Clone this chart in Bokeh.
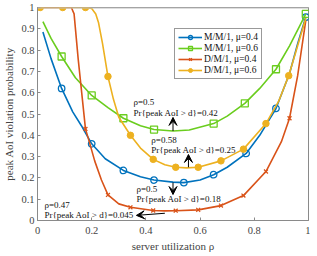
from bokeh.plotting import figure
from bokeh.models import (FixedTicker, Range1d, Legend, LegendItem, Arrow, VeeHead, Span)
from bokeh.core.properties import value
from bokeh.embed import file_html
from bokeh.resources import INLINE

# ---- data ----
mm04_x = [0.02, 0.05, 0.089, 0.13, 0.162, 0.2, 0.25, 0.317, 0.38, 0.43, 0.5, 0.54,
          0.6, 0.65, 0.7, 0.77, 0.82, 0.88, 0.93, 0.96, 0.99]
mm04_y = [0.885, 0.76, 0.62, 0.51, 0.445, 0.36, 0.29, 0.235, 0.205, 0.19, 0.18, 0.178,
          0.19, 0.215, 0.25, 0.315, 0.40, 0.526, 0.69, 0.83, 0.955]
mm04_marks = [2, 5, 7, 9, 11, 13, 15, 17, 20]

mm06_x = [0.02, 0.05, 0.089, 0.14, 0.2, 0.26, 0.317, 0.38, 0.43, 0.5, 0.56, 0.65,
          0.7, 0.765, 0.82, 0.88, 0.93, 0.97, 0.99]
mm06_y = [0.934, 0.855, 0.77, 0.67, 0.587, 0.53, 0.48, 0.445, 0.427, 0.42, 0.425, 0.455,
          0.49, 0.55, 0.62, 0.71, 0.82, 0.92, 0.97]
mm06_marks = [2, 4, 6, 8, 11, 13, 15, 18]

dm04_x = [0.0, 0.01, 0.093, 0.125, 0.135, 0.15, 0.177, 0.19, 0.211, 0.236, 0.26, 0.3,
          0.343, 0.427, 0.47, 0.51, 0.593, 0.677, 0.76, 0.843, 0.9, 0.93, 0.96, 0.99]
dm04_y = [1.0, 1.0, 1.0, 1.0, 0.97, 0.76, 0.43, 0.375, 0.28, 0.19, 0.12, 0.078,
          0.062, 0.047, 0.045, 0.046, 0.05, 0.07, 0.117, 0.23, 0.37, 0.48, 0.68, 0.94]
dm04_marks = [1, 2, 6, 10, 12, 13, 15, 16, 17, 18, 19, 21]

dm06_x = [0.0, 0.01, 0.093, 0.177, 0.2, 0.215, 0.225, 0.24, 0.26, 0.28, 0.3, 0.343,
          0.38, 0.427, 0.47, 0.51, 0.55, 0.593, 0.677, 0.76, 0.843, 0.89, 0.927, 0.96, 0.99]
dm06_y = [1.0, 1.0, 1.0, 1.0, 0.995, 0.97, 0.93, 0.83, 0.676, 0.57, 0.485, 0.40,
          0.34, 0.287, 0.262, 0.25, 0.247, 0.25, 0.28, 0.335, 0.455, 0.56, 0.68, 0.82, 0.95]
dm06_marks = [1, 2, 3, 8, 11, 13, 15, 17, 18, 19, 20, 22]

series_labels = ["M/M/1, μ=0.4", "M/M/1, μ=0.6", "D/M/1, μ=0.4", "D/M/1, μ=0.6"]

x_ticks = [0, 0.2, 0.4, 0.6, 0.8, 1]
x_tick_labels = ["0", "0.2", "0.4", "0.6", "0.8", "1"]
y_ticks = [0, 0.1, 0.2, 0.3, 0.4, 0.5, 0.6, 0.7, 0.8, 0.9, 1]
y_tick_labels = ["0", "0.1", "0.2", "0.3", "0.4", "0.5", "0.6", "0.7", "0.8", "0.9", "1"]

ann_rho = ["ρ=0.5", "ρ=0.58", "ρ=0.5", "ρ=0.47"]
ann_prob = ["Pr{peak AoI > d}=0.42", "Pr{peak AoI > d}=0.25",
            "Pr{peak AoI > d}=0.18", "Pr{peak AoI > d}=0.045"]
ann_x = [0.354, 0.42, 0.365, 0.026]
ann_y_rho = [0.554, 0.376, 0.146, 0.075]
ann_y_prob = [0.507, 0.329, 0.099, 0.028]
arr_x0 = [0.5, 0.557, 0.5, 0.47]
arr_y0 = [0.42, 0.25, 0.178, 0.034]
arr_x1 = [0.5, 0.557, 0.5, 0.365]
arr_y1 = [0.484, 0.31, 0.122, 0.024]

colors = ["#0072BD", "#6ACD1E", "#D95319", "#EDB120"]
FONT = "Liberation Serif"

p = figure(frame_width=271, frame_height=213, x_range=Range1d(0, 1), y_range=Range1d(0, 1),
           output_backend="svg", toolbar_location=None,
           min_border_left=26, min_border_right=2, min_border_top=7, min_border_bottom=30)
p.grid.visible = False
p.outline_line_color = "#8a8a8a"
p.outline_line_width = 1
p.background_fill_color = "white"

for ax in (p.xaxis[0], p.yaxis[0]):
    ax.axis_line_color = "#8a8a8a"
    ax.major_tick_line_color = "#8a8a8a"
    ax.major_tick_in = 3
    ax.major_tick_out = 0
    ax.minor_tick_line_color = None
    ax.major_label_text_font = FONT
    ax.major_label_text_font_size = "10.5px"
    ax.major_label_text_color = "#444444"
    ax.axis_label_text_font = FONT
    ax.axis_label_text_font_size = "11px"
    ax.axis_label_text_font_style = "normal"
    ax.axis_label_text_color = "#444444"

p.xaxis.ticker = FixedTicker(ticks=x_ticks)
p.xaxis.major_label_overrides = {t: l for t, l in zip(x_ticks, x_tick_labels)}
p.yaxis.ticker = FixedTicker(ticks=y_ticks)
p.yaxis.major_label_overrides = {t: l for t, l in zip(y_ticks, y_tick_labels)}
p.xaxis.axis_label = "server utilization ρ"
p.yaxis.axis_label = "peak AoI violation probability"
p.xaxis.major_label_standoff = 6
p.yaxis.major_label_standoff = 3
p.xaxis.axis_label_standoff = 3
p.yaxis.axis_label_standoff = 3

p.add_layout(Span(location=1, dimension="width", line_color="#bdbdbd", line_width=2))

all_x = [mm04_x, mm06_x, dm04_x, dm06_x]
all_y = [mm04_y, mm06_y, dm04_y, dm06_y]
all_marks = [mm04_marks, mm06_marks, dm04_marks, dm06_marks]
items = []
for i in range(4):
    xs, ys, mk, c = all_x[i], all_y[i], all_marks[i], colors[i]
    ln = p.line(xs, ys, line_color=c, line_width=1.6)
    mx = [xs[k] for k in mk]
    my = [ys[k] for k in mk]
    if i == 0:
        sc = p.scatter(mx, my, marker="circle", size=6.5, fill_color=None, line_color=c, line_width=1.3)
    elif i == 1:
        sc = p.scatter(mx, my, marker="square", size=7, fill_color=None, line_color=c, line_width=1.3)
    elif i == 2:
        sc = p.scatter(mx, my, marker="x", size=5.5, line_color=c, line_width=1.3)
    else:
        sc = p.scatter(mx, my, marker="circle", size=6.5, fill_color=c, line_color=c, line_width=1)
    items.append(LegendItem(label=series_labels[i], renderers=[ln, sc]))

legend = Legend(items=items, location=(137, 141),
                label_text_font=FONT, label_text_font_size="9.5px", label_text_color="#111111",
                label_text_line_height=1.0,
                glyph_width=24, glyph_height=10, label_height=10, spacing=1,
                padding=3, margin=0, label_standoff=2,
                border_line_color="#333333", border_line_width=1,
                background_fill_color="white", background_fill_alpha=1)
p.add_layout(legend)

p.text(ann_x, ann_y_rho, text=ann_rho, text_font=value(FONT), text_font_size="9px",
       text_baseline="middle", text_align="left", text_color="#111111")
p.text(ann_x, ann_y_prob, text=ann_prob, text_font=value(FONT), text_font_size="9px",
       text_baseline="middle", text_align="left", text_color="#111111")

for i in range(4):
    p.add_layout(Arrow(end=VeeHead(size=8, fill_color="black", line_color="black"),
                       x_start=arr_x0[i], y_start=arr_y0[i], x_end=arr_x1[i], y_end=arr_y1[i],
                       line_color="black", line_width=1))

open("out.html", "w").write(file_html(p, INLINE))
